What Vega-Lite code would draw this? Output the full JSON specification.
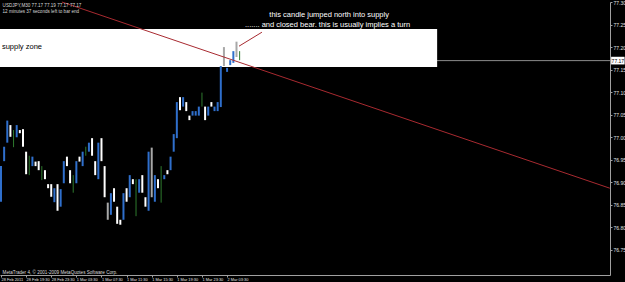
{
  "$schema": "https://vega.github.io/schema/vega-lite/v6.json",
  "autosize": "none",
  "width": 610,
  "height": 273,
  "padding": {"left": 0, "top": 2, "right": 15, "bottom": 7},
  "background": "#000000",
  "config": {"view": {"stroke": null}, "font": "Liberation Sans",
    "axis": {"grid": false, "title": null, "labelColor": "#e0e0e0", "tickColor": "#a0a0a0", "domainColor": "#a0a0a0", "tickSize": 2, "labelFlush": false, "labelOverlap": false},
    "axisX": {"labelAlign": "left", "labelFontSize": 3.9, "labelPadding": 0.5},
    "axisY": {"labelFontSize": 5, "labelPadding": 1}
  },
  "datasets": {
    "candles": [
      {"i":0,"hi":76.936,"lo":76.857,"d":"up"},
      {"i":1,"hi":76.979,"lo":76.947,"d":"up"},
      {"i":2,"hi":77.037,"lo":76.988,"d":"up"},
      {"i":3,"hi":77.027,"lo":77.001,"d":"down"},
      {"i":4,"hi":77.016,"lo":76.978,"d":"doji"},
      {"i":5,"hi":77.027,"lo":77.000,"d":"up"},
      {"i":6,"hi":77.016,"lo":77.009,"d":"down"},
      {"i":7,"hi":77.018,"lo":76.979,"d":"down"},
      {"i":8,"hi":76.968,"lo":76.918,"d":"down"},
      {"i":9,"hi":76.959,"lo":76.916,"d":"doji"},
      {"i":10,"hi":76.957,"lo":76.936,"d":"up"},
      {"i":11,"hi":76.946,"lo":76.936,"d":"down"},
      {"i":12,"hi":76.947,"lo":76.927,"d":"down"},
      {"i":13,"hi":76.936,"lo":76.905,"d":"doji"},
      {"i":14,"hi":76.927,"lo":76.907,"d":"down"},
      {"i":15,"hi":76.896,"lo":76.887,"d":"down"},
      {"i":16,"hi":76.896,"lo":76.868,"d":"down"},
      {"i":17,"hi":76.887,"lo":76.856,"d":"up"},
      {"i":18,"hi":76.896,"lo":76.837,"d":"down"},
      {"i":19,"hi":76.885,"lo":76.846,"d":"up"},
      {"i":20,"hi":76.947,"lo":76.898,"d":"up"},
      {"i":21,"hi":76.957,"lo":76.936,"d":"down"},
      {"i":22,"hi":76.927,"lo":76.898,"d":"down"},
      {"i":23,"hi":76.916,"lo":76.877,"d":"doji"},
      {"i":24,"hi":76.947,"lo":76.898,"d":"up"},
      {"i":25,"hi":76.957,"lo":76.946,"d":"down"},
      {"i":26,"hi":76.968,"lo":76.936,"d":"up"},
      {"i":27,"hi":76.979,"lo":76.959,"d":"doji"},
      {"i":28,"hi":76.988,"lo":76.968,"d":"up"},
      {"i":29,"hi":76.998,"lo":76.959,"d":"down"},
      {"i":30,"hi":76.947,"lo":76.916,"d":"down"},
      {"i":31,"hi":76.988,"lo":76.907,"d":"up"},
      {"i":32,"hi":76.998,"lo":76.947,"d":"down"},
      {"i":33,"hi":76.936,"lo":76.867,"d":"down"},
      {"i":34,"hi":76.855,"lo":76.817,"d":"gray"},
      {"i":35,"hi":76.876,"lo":76.828,"d":"up"},
      {"i":36,"hi":76.887,"lo":76.857,"d":"down"},
      {"i":37,"hi":76.846,"lo":76.808,"d":"down"},
      {"i":38,"hi":76.817,"lo":76.806,"d":"down"},
      {"i":39,"hi":76.876,"lo":76.817,"d":"up"},
      {"i":40,"hi":76.887,"lo":76.857,"d":"down"},
      {"i":41,"hi":76.916,"lo":76.867,"d":"up"},
      {"i":42,"hi":76.907,"lo":76.896,"d":"down"},
      {"i":43,"hi":76.907,"lo":76.825,"d":"doji"},
      {"i":44,"hi":76.907,"lo":76.877,"d":"up"},
      {"i":45,"hi":76.916,"lo":76.877,"d":"down"},
      {"i":46,"hi":76.867,"lo":76.846,"d":"down"},
      {"i":47,"hi":76.968,"lo":76.837,"d":"up"},
      {"i":48,"hi":76.977,"lo":76.867,"d":"gray"},
      {"i":49,"hi":76.916,"lo":76.857,"d":"up"},
      {"i":50,"hi":76.907,"lo":76.887,"d":"down"},
      {"i":51,"hi":76.936,"lo":76.855,"d":"doji"},
      {"i":52,"hi":76.916,"lo":76.907,"d":"up"},
      {"i":53,"hi":76.927,"lo":76.918,"d":"down"},
      {"i":54,"hi":76.957,"lo":76.927,"d":"up"},
      {"i":55,"hi":77.007,"lo":76.968,"d":"up"},
      {"i":56,"hi":77.078,"lo":76.998,"d":"up"},
      {"i":57,"hi":77.089,"lo":77.060,"d":"down"},
      {"i":58,"hi":77.089,"lo":77.068,"d":"up"},
      {"i":59,"hi":77.078,"lo":77.058,"d":"down"},
      {"i":60,"hi":77.048,"lo":77.038,"d":"down"},
      {"i":61,"hi":77.058,"lo":77.048,"d":"up"},
      {"i":62,"hi":77.058,"lo":77.048,"d":"up"},
      {"i":63,"hi":77.068,"lo":77.048,"d":"up"},
      {"i":64,"hi":77.099,"lo":77.068,"d":"doji"},
      {"i":65,"hi":77.068,"lo":77.038,"d":"down"},
      {"i":66,"hi":77.068,"lo":77.048,"d":"up"},
      {"i":67,"hi":77.078,"lo":77.068,"d":"down"},
      {"i":68,"hi":77.068,"lo":77.058,"d":"up"},
      {"i":69,"hi":77.078,"lo":77.058,"d":"up"},
      {"i":70,"hi":77.158,"lo":77.067,"d":"up"},
      {"i":71,"hi":77.200,"lo":77.158,"d":"gray"},
      {"i":72,"hi":77.154,"lo":77.145,"d":"up"},
      {"i":73,"hi":77.171,"lo":77.160,"d":"up"},
      {"i":74,"hi":77.191,"lo":77.165,"d":"up"},
      {"i":75,"hi":77.212,"lo":77.178,"d":"gray"},
      {"i":76,"hi":77.191,"lo":77.171,"d":"doji"}
    ]
  },
  "layer": [
    {
      "data": {"values": [{"a": -0.318, "b": 193.95, "p": 77.17}]},
      "mark": {"type": "rule", "color": "#8c8c8c", "strokeWidth": 1},
      "encoding": {
        "x": {"field": "a", "type": "quantitative", "scale": {"domain": [-0.318, 193.95], "zero": false, "nice": false},
          "axis": {"orient": "bottom", "values": [0, 8, 16, 24, 32, 40, 48, 56, 64, 72],
            "labelExpr": "['28 Feb 2011','28 Feb 19:30','28 Feb 23:30','1 Mar 03:30','1 Mar 07:30','1 Mar 11:30','1 Mar 15:30','1 Mar 19:30','1 Mar 23:30','2 Mar 03:30'][round(datum.value/8)]"}},
        "x2": {"field": "b"},
        "y": {"field": "p", "type": "quantitative", "scale": {"domain": [76.6945, 77.30], "zero": false, "nice": false},
          "axis": {"orient": "right", "values": [76.75, 76.80, 76.85, 76.90, 76.95, 77.00, 77.05, 77.10, 77.15, 77.20, 77.25, 77.30], "format": ".2f"}}
      }
    },
    {
      "data": {"values": [{"a": -0.318, "b": 138.9, "p1": 77.240, "p2": 77.156}]},
      "mark": {"type": "rect", "color": "#ffffff"},
      "encoding": {
        "x": {"field": "a", "type": "quantitative", "scale": {"domain": [-0.318, 193.95], "zero": false, "nice": false},
          "axis": {"orient": "bottom", "values": [0, 8, 16, 24, 32, 40, 48, 56, 64, 72],
            "labelExpr": "['28 Feb 2011','28 Feb 19:30','28 Feb 23:30','1 Mar 03:30','1 Mar 07:30','1 Mar 11:30','1 Mar 15:30','1 Mar 19:30','1 Mar 23:30','2 Mar 03:30'][round(datum.value/8)]"}},
        "x2": {"field": "b"},
        "y": {"field": "p1", "type": "quantitative", "scale": {"domain": [76.6945, 77.30], "zero": false, "nice": false},
          "axis": {"orient": "right", "values": [76.75, 76.80, 76.85, 76.90, 76.95, 77.00, 77.05, 77.10, 77.15, 77.20, 77.25, 77.30], "format": ".2f"}},
        "y2": {"field": "p2"}
      }
    },
    {
      "data": {"name": "candles"},
      "mark": {"type": "rule"},
      "encoding": {
        "x": {"field": "i", "type": "quantitative", "scale": {"domain": [-0.318, 193.95], "zero": false, "nice": false},
          "axis": {"orient": "bottom", "values": [0, 8, 16, 24, 32, 40, 48, 56, 64, 72],
            "labelExpr": "['28 Feb 2011','28 Feb 19:30','28 Feb 23:30','1 Mar 03:30','1 Mar 07:30','1 Mar 11:30','1 Mar 15:30','1 Mar 19:30','1 Mar 23:30','2 Mar 03:30'][round(datum.value/8)]"}},
        "y": {"field": "hi", "type": "quantitative", "scale": {"domain": [76.6945, 77.30], "zero": false, "nice": false},
          "axis": {"orient": "right", "values": [76.75, 76.80, 76.85, 76.90, 76.95, 77.00, 77.05, 77.10, 77.15, 77.20, 77.25, 77.30], "format": ".2f"}},
        "y2": {"field": "lo"},
        "color": {"field": "d", "type": "nominal", "legend": null,
          "scale": {"domain": ["up", "down", "doji", "gray"], "range": ["#2f6fcc", "#ffffff", "#2e7a2e", "#a8a8a8"]}},
        "strokeWidth": {"condition": {"test": "datum.d === 'doji'", "value": 1}, "value": 2}
      }
    },
    {
      "data": {"values": [{"a": 19.4, "pa": 77.30, "b": 193.9, "pb": 76.887}, {"a": 75.8, "pa": 77.202, "b": 83.1, "pb": 77.233}]},
      "mark": {"type": "rule", "color": "#a82a30", "strokeWidth": 1},
      "encoding": {
        "x": {"field": "a", "type": "quantitative", "scale": {"domain": [-0.318, 193.95], "zero": false, "nice": false},
          "axis": {"orient": "bottom", "values": [0, 8, 16, 24, 32, 40, 48, 56, 64, 72],
            "labelExpr": "['28 Feb 2011','28 Feb 19:30','28 Feb 23:30','1 Mar 03:30','1 Mar 07:30','1 Mar 11:30','1 Mar 15:30','1 Mar 19:30','1 Mar 23:30','2 Mar 03:30'][round(datum.value/8)]"}},
        "x2": {"field": "b"},
        "y": {"field": "pa", "type": "quantitative", "scale": {"domain": [76.6945, 77.30], "zero": false, "nice": false},
          "axis": {"orient": "right", "values": [76.75, 76.80, 76.85, 76.90, 76.95, 77.00, 77.05, 77.10, 77.15, 77.20, 77.25, 77.30], "format": ".2f"}},
        "y2": {"field": "pb"}
      }
    },
    {
      "data": {"values": [
        {"x": 104.5, "p": 77.271, "t": "this candle jumped north into supply"},
        {"x": 104.0, "p": 77.250, "t": "....... and closed bear. this is usually implies a turn"}
      ]},
      "mark": {"type": "text", "color": "#ffffff", "fontSize": 7.5, "align": "center", "baseline": "middle"},
      "encoding": {
        "x": {"field": "x", "type": "quantitative", "scale": {"domain": [-0.318, 193.95], "zero": false, "nice": false},
          "axis": {"orient": "bottom", "values": [0, 8, 16, 24, 32, 40, 48, 56, 64, 72],
            "labelExpr": "['28 Feb 2011','28 Feb 19:30','28 Feb 23:30','1 Mar 03:30','1 Mar 07:30','1 Mar 11:30','1 Mar 15:30','1 Mar 19:30','1 Mar 23:30','2 Mar 03:30'][round(datum.value/8)]"}},
        "y": {"field": "p", "type": "quantitative", "scale": {"domain": [76.6945, 77.30], "zero": false, "nice": false},
          "axis": {"orient": "right", "values": [76.75, 76.80, 76.85, 76.90, 76.95, 77.00, 77.05, 77.10, 77.15, 77.20, 77.25, 77.30], "format": ".2f"}},
        "text": {"field": "t"}
      }
    },
    {
      "data": {"values": [{"x": 0.3, "p": 77.200, "t": "supply zone"}]},
      "mark": {"type": "text", "color": "#000000", "fontSize": 7.5, "align": "left", "baseline": "middle"},
      "encoding": {
        "x": {"field": "x", "type": "quantitative", "scale": {"domain": [-0.318, 193.95], "zero": false, "nice": false},
          "axis": {"orient": "bottom", "values": [0, 8, 16, 24, 32, 40, 48, 56, 64, 72],
            "labelExpr": "['28 Feb 2011','28 Feb 19:30','28 Feb 23:30','1 Mar 03:30','1 Mar 07:30','1 Mar 11:30','1 Mar 15:30','1 Mar 19:30','1 Mar 23:30','2 Mar 03:30'][round(datum.value/8)]"}},
        "y": {"field": "p", "type": "quantitative", "scale": {"domain": [76.6945, 77.30], "zero": false, "nice": false},
          "axis": {"orient": "right", "values": [76.75, 76.80, 76.85, 76.90, 76.95, 77.00, 77.05, 77.10, 77.15, 77.20, 77.25, 77.30], "format": ".2f"}},
        "text": {"field": "t"}
      }
    },
    {
      "data": {"values": [
        {"x": 0.5, "p": 77.2975, "t": "USDJPY,M30  77.17 77.19 77.17 77.17"},
        {"x": 0.5, "p": 77.284, "t": "12 minutes 37 seconds left to bar end"},
        {"x": 0.5, "p": 76.705, "t": "MetaTrader 4, © 2001-2009 MetaQuotes Software Corp."}
      ]},
      "mark": {"type": "text", "color": "#d8d8d8", "fontSize": 4.6, "align": "left", "baseline": "top"},
      "encoding": {
        "x": {"field": "x", "type": "quantitative", "scale": {"domain": [-0.318, 193.95], "zero": false, "nice": false},
          "axis": {"orient": "bottom", "values": [0, 8, 16, 24, 32, 40, 48, 56, 64, 72],
            "labelExpr": "['28 Feb 2011','28 Feb 19:30','28 Feb 23:30','1 Mar 03:30','1 Mar 07:30','1 Mar 11:30','1 Mar 15:30','1 Mar 19:30','1 Mar 23:30','2 Mar 03:30'][round(datum.value/8)]"}},
        "y": {"field": "p", "type": "quantitative", "scale": {"domain": [76.6945, 77.30], "zero": false, "nice": false},
          "axis": {"orient": "right", "values": [76.75, 76.80, 76.85, 76.90, 76.95, 77.00, 77.05, 77.10, 77.15, 77.20, 77.25, 77.30], "format": ".2f"}},
        "text": {"field": "t"}
      }
    },
    {
      "data": {"values": [{"a": 194.3, "b": 198.6, "p1": 77.1785, "p2": 77.1615}]},
      "mark": {"type": "rect", "color": "#ffffff", "clip": false},
      "encoding": {
        "x": {"field": "a", "type": "quantitative", "scale": {"domain": [-0.318, 193.95], "zero": false, "nice": false},
          "axis": {"orient": "bottom", "values": [0, 8, 16, 24, 32, 40, 48, 56, 64, 72],
            "labelExpr": "['28 Feb 2011','28 Feb 19:30','28 Feb 23:30','1 Mar 03:30','1 Mar 07:30','1 Mar 11:30','1 Mar 15:30','1 Mar 19:30','1 Mar 23:30','2 Mar 03:30'][round(datum.value/8)]"}},
        "x2": {"field": "b"},
        "y": {"field": "p1", "type": "quantitative", "scale": {"domain": [76.6945, 77.30], "zero": false, "nice": false},
          "axis": {"orient": "right", "values": [76.75, 76.80, 76.85, 76.90, 76.95, 77.00, 77.05, 77.10, 77.15, 77.20, 77.25, 77.30], "format": ".2f"}},
        "y2": {"field": "p2"}
      }
    },
    {
      "data": {"values": [{"x": 196.45, "p": 77.17, "t": "77.17"}]},
      "mark": {"type": "text", "color": "#000000", "fontSize": 5, "align": "center", "baseline": "middle", "clip": false},
      "encoding": {
        "x": {"field": "x", "type": "quantitative", "scale": {"domain": [-0.318, 193.95], "zero": false, "nice": false},
          "axis": {"orient": "bottom", "values": [0, 8, 16, 24, 32, 40, 48, 56, 64, 72],
            "labelExpr": "['28 Feb 2011','28 Feb 19:30','28 Feb 23:30','1 Mar 03:30','1 Mar 07:30','1 Mar 11:30','1 Mar 15:30','1 Mar 19:30','1 Mar 23:30','2 Mar 03:30'][round(datum.value/8)]"}},
        "y": {"field": "p", "type": "quantitative", "scale": {"domain": [76.6945, 77.30], "zero": false, "nice": false},
          "axis": {"orient": "right", "values": [76.75, 76.80, 76.85, 76.90, 76.95, 77.00, 77.05, 77.10, 77.15, 77.20, 77.25, 77.30], "format": ".2f"}},
        "text": {"field": "t"}
      }
    }
  ]
}
